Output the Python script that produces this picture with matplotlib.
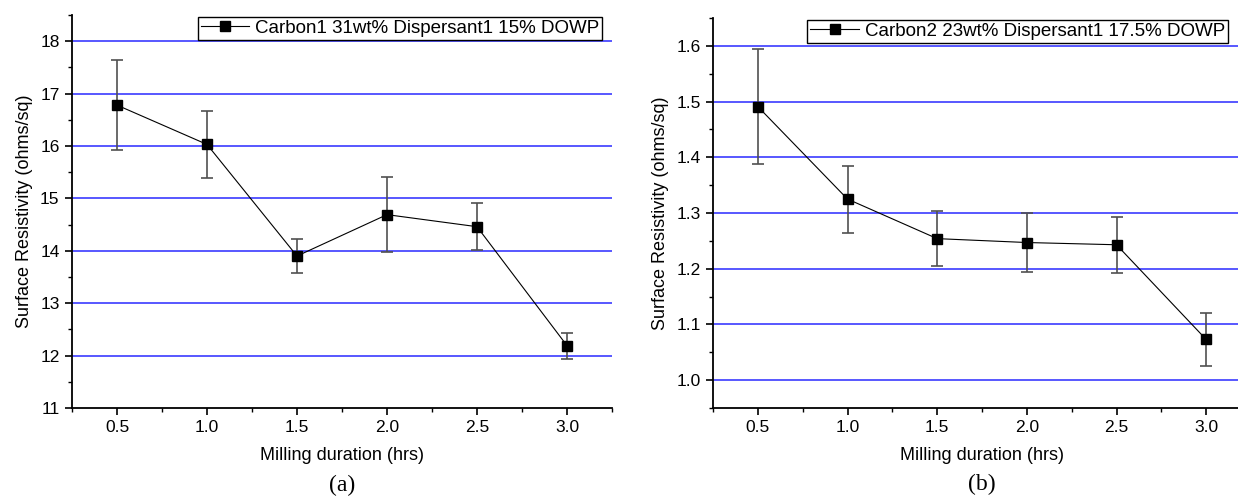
import matplotlib
matplotlib.use("Agg")
import matplotlib.pyplot as plt
from matplotlib.ticker import MultipleLocator, FormatStrFormatter

plt.rcParams['font.family'] = ['Liberation Sans', 'DejaVu Sans']

milling_hrs = [0.5, 1.0, 1.5, 2.0, 2.5, 3.0]

res_a = [16.78, 16.03, 13.90, 14.69, 14.46, 12.19]
err_a = [0.86, 0.64, 0.33, 0.72, 0.45, 0.25]
label_a = "Carbon1 31wt% Dispersant1 15% DOWP"

res_b = [1.491, 1.325, 1.254, 1.247, 1.243, 1.073]
err_b = [0.103, 0.060, 0.050, 0.053, 0.050, 0.047]
label_b = "Carbon2 23wt% Dispersant1 17.5% DOWP"

W, H = 1238, 503
fig = plt.figure(figsize=(W / 100, H / 100), dpi=100)

def make_ax(left_px, right_px, top_px, bottom_px):
    return fig.add_axes([left_px / W, 1 - bottom_px / H,
                         (right_px - left_px) / W, (bottom_px - top_px) / H])

ax_a = make_ax(72, 612, 15, 408)
ax_b = make_ax(713, 1251, 18, 408)

def style(ax, y, e, label, ylim, ymaj, ymin, grid_vals, caption, leg_x):
    for g in grid_vals:
        ax.axhline(g, color='#2a2aff', lw=1.1, zorder=1)
    ax.errorbar(milling_hrs, y, yerr=e, fmt='none', ecolor='#505050',
                elinewidth=1.2, capsize=4, capthick=1.2, zorder=2)
    ax.plot(milling_hrs, y, color='black', lw=0.8, marker='s', ms=6.8,
            mfc='black', mec='black', label=label, zorder=3)
    ax.set_xlim(0.25, 3.25)
    ax.set_ylim(*ylim)
    ax.xaxis.set_major_locator(MultipleLocator(0.5))
    ax.xaxis.set_minor_locator(MultipleLocator(0.25))
    ax.yaxis.set_major_locator(MultipleLocator(ymaj))
    ax.yaxis.set_minor_locator(MultipleLocator(ymin))
    ax.xaxis.set_major_formatter(FormatStrFormatter('%.1f'))
    ax.spines['top'].set_visible(False)
    ax.spines['right'].set_visible(False)
    for s in ('left', 'bottom'):
        ax.spines[s].set_linewidth(1.3)
    ax.tick_params(which='major', direction='out', length=5, width=1.2,
                   labelsize=12.5, pad=4)
    ax.tick_params(which='minor', direction='out', length=3, width=1.0)
    ax.set_xlabel("Milling duration (hrs)", fontsize=13, labelpad=8)
    ax.set_ylabel("Surface Resistivity (ohms/sq)", fontsize=13, labelpad=5)
    leg = ax.legend(loc='upper right', bbox_to_anchor=(leg_x, 1.0),
                    fontsize=13.5, frameon=True, fancybox=False, framealpha=1,
                    edgecolor='black', borderpad=0.15, handlelength=2.6,
                    handletextpad=0.3, borderaxespad=0.1)
    leg.get_frame().set_linewidth(1.0)
    ax.text(0.5, -0.196, caption, transform=ax.transAxes, ha='center',
            va='center', fontsize=17, family='Liberation Serif')

style(ax_a, res_a, err_a, label_a, (11, 18.5), 1, 0.5,
      [12, 13, 14, 15, 16, 17, 18], "(a)", 0.985)
style(ax_b, res_b, err_b, label_b, (0.95, 1.65), 0.1, 0.05,
      [1.0, 1.1, 1.2, 1.3, 1.4, 1.5, 1.6], "(b)", 0.96)
ax_b.yaxis.set_major_formatter(FormatStrFormatter('%.1f'))

fig.savefig("out.png", dpi=100)
